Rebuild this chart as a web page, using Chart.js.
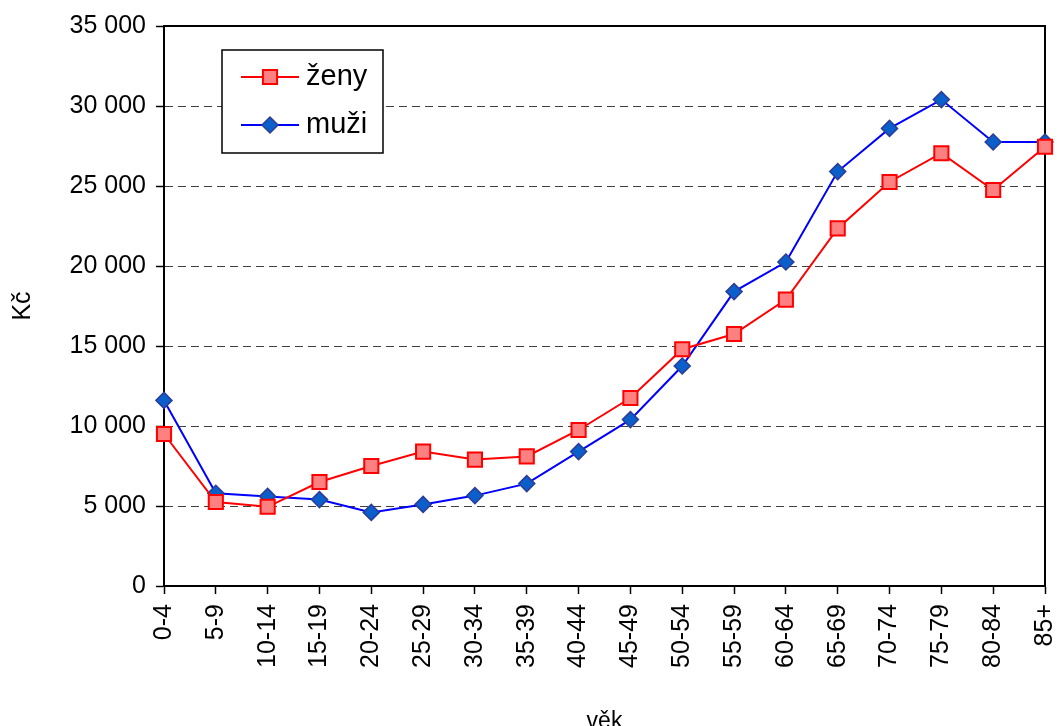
<!DOCTYPE html>
<html>
<head>
<meta charset="utf-8">
<script src="https://cdn.jsdelivr.net/npm/chart.js@4/dist/chart.umd.min.js"></script>
<style>
  body { margin: 0; background: #fff; }
  canvas { display: block; }
</style>
</head>
<body>
<canvas id="chart" width="1057" height="726"></canvas>
<script>
let chartCanvas = document.querySelector("#chart");

const ageGroups = ["0-4", "5-9", "10-14", "15-19", "20-24", "25-29", "30-34", "35-39", "40-44",
  "45-49", "50-54", "55-59", "60-64", "65-69", "70-74", "75-79", "80-84", "85+"];
const women = [9500, 5250, 4950, 6500, 7500, 8400, 7900, 8100, 9750,
  11750, 14800, 15750, 17900, 22350, 25250, 27050, 24750, 27450];
const men = [11600, 5800, 5600, 5400, 4600, 5100, 5650, 6400, 8400,
  10400, 13750, 18400, 20250, 25900, 28600, 30400, 27750, 27750];

const FONT = "'Liberation Sans', Arial, sans-serif";
const FONT_SIZE = 25;

function formatThousands(v) {
  return String(v).replace(/\B(?=(\d{3})+(?!\d))/g, " ");
}

// black frame round the plot area, under the markers
const framePlugin = {
  id: "frame",
  beforeDatasetsDraw(chart) {
    const { ctx, chartArea } = chart;
    ctx.save();
    ctx.strokeStyle = "#000";
    ctx.lineWidth = 2;
    ctx.strokeRect(chartArea.left, chartArea.top, chartArea.right - chartArea.left, chartArea.bottom - chartArea.top);
    ctx.restore();
  },
};

// boxed legend inside the plot, top left
const boxLegend = {
  id: "boxLegend",
  afterDraw(chart) {
    const { ctx } = chart;
    const x = 222, y = 50, w = 161, h = 103;
    ctx.save();
    ctx.fillStyle = "#fff";
    ctx.fillRect(x, y, w, h);
    ctx.strokeStyle = "#000";
    ctx.lineWidth = 1.5;
    ctx.strokeRect(x, y, w, h);

    chart.data.datasets.forEach((ds, i) => {
      const cy = y + 27 + i * 48;
      ctx.strokeStyle = ds.borderColor;
      ctx.lineWidth = ds.borderWidth;
      ctx.beginPath();
      ctx.moveTo(x + 19, cy);
      ctx.lineTo(x + 77, cy);
      ctx.stroke();

      ctx.fillStyle = ds.pointBackgroundColor;
      ctx.strokeStyle = ds.pointBorderColor;
      ctx.lineWidth = ds.pointBorderWidth;
      Chart.helpers.drawPoint(ctx, {
        pointStyle: ds.pointStyle,
        rotation: 0,
        radius: ds.pointRadius,
        borderWidth: ds.pointBorderWidth,
      }, x + 48, cy);

      ctx.fillStyle = "#000";
      ctx.font = "29px " + FONT;
      ctx.textBaseline = "middle";
      ctx.textAlign = "left";
      ctx.fillText(ds.label, x + 84, cy);
    });
    ctx.restore();
  },
};

let chart1 = new Chart(chartCanvas, {
  type: "line",
  data: {
    labels: ageGroups,
    datasets: [
      {
        label: "ženy",
        data: women,
        borderColor: "#FF0000",
        borderWidth: 2,
        pointStyle: "rect",
        pointRadius: 10,
        pointHoverRadius: 10,
        pointBackgroundColor: "#FF8080",
        pointBorderColor: "#FF0000",
        pointBorderWidth: 2,
        tension: 0,
      },
      {
        label: "muži",
        data: men,
        borderColor: "#0000FF",
        borderWidth: 2,
        pointStyle: "rectRot",
        pointRadius: 8,
        pointHoverRadius: 8,
        pointBackgroundColor: "#0A5FCB",
        pointBorderColor: "#2B3D99",
        pointBorderWidth: 1.5,
        tension: 0,
      },
    ],
  },
  options: {
    responsive: false,
    animation: false,
    events: [],
    layout: { padding: { top: 26, right: 10, left: 0, bottom: 0 } },
    plugins: {
      legend: { display: false },
      tooltip: { enabled: false },
    },
    scales: {
      x: {
        type: "category",
        offset: false,
        afterFit: (s) => {
          s.height = 140;
          s.paddingLeft = 0;
          s.paddingRight = 0;
        },
        grid: {
          drawOnChartArea: false,
          drawTicks: true,
          tickLength: 8,
          tickColor: "#000",
          tickWidth: 1.5,
        },
        border: { display: true, color: "#000", width: 2 },
        ticks: {
          color: "#000",
          font: { family: FONT, size: FONT_SIZE },
          maxRotation: 90,
          minRotation: 90,
          autoSkip: false,
          padding: 10,
        },
        title: {
          display: true,
          text: "věk",
          color: "#000",
          font: { family: FONT, size: 23 },
          padding: { top: 0, bottom: -9 },
        },
      },
      y: {
        min: 0,
        max: 35000,
        afterFit: (s) => { s.width = 164; },
        grid: {
          color: "#404040",
          lineWidth: 1,
          drawTicks: true,
          tickLength: 8,
          tickColor: "#000",
          tickWidth: 1.5,
          tickBorderDash: [],
        },
        border: { display: true, color: "#000", width: 2, dash: [8, 5] },
        ticks: {
          stepSize: 5000,
          color: "#000",
          font: { family: FONT, size: FONT_SIZE },
          padding: 10,
          callback: (v) => formatThousands(v),
        },
        title: {
          display: true,
          text: "Kč",
          color: "#000",
          font: { family: FONT, size: FONT_SIZE },
          padding: { top: 8, bottom: 0 },
        },
      },
    },
  },
  plugins: [framePlugin, boxLegend],
});
</script>
</body>
</html>
